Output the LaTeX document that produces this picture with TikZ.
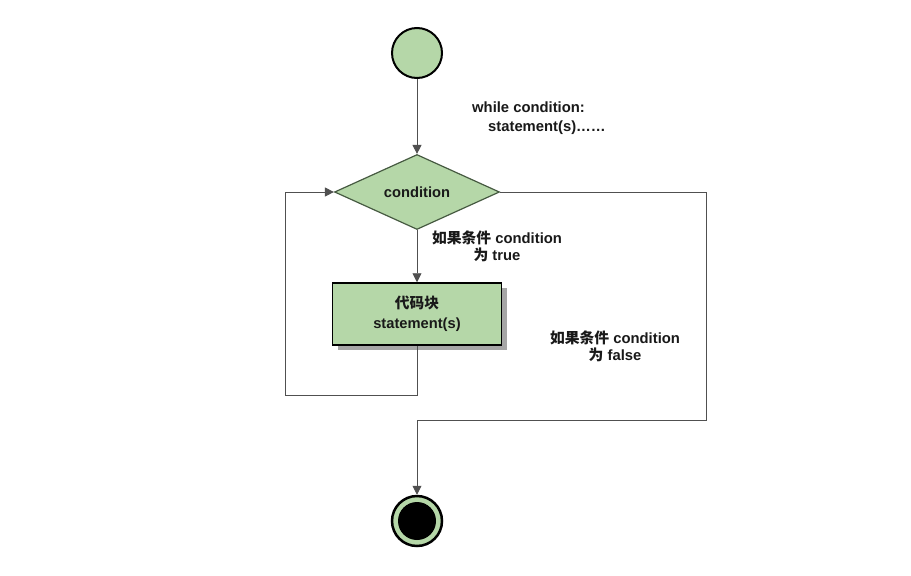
\documentclass[tikz,border=0pt]{standalone}
\usepackage{fontspec}
\setmainfont{Liberation Sans}
\newfontfamily\cjk{Noto Sans CJK SC}
\usetikzlibrary{shapes.geometric,shadows,arrows.meta}
\definecolor{lgreen}{RGB}{181,215,168}
\definecolor{dborder}{RGB}{70,90,65}
\definecolor{lineg}{RGB}{80,80,80}
\tikzset{
  flowline/.style={draw=lineg, line width=0.9pt},
  flowarrow/.style={flowline, -{Triangle[length=9pt,width=9pt]}},
  lbl/.style={font=\fontsize{14.8}{17}\selectfont\bfseries, align=center, inner sep=0pt, text=black!90},
}
\begin{document}
\begin{tikzpicture}[x=1pt,y=-1pt]
\useasboundingbox (0,0) rectangle (911,576);
\fill[white] (0,0) rectangle (911,576);
% start
\node[circle, draw=black, line width=2pt, fill=lgreen, minimum size=50pt, inner sep=0pt] (start) at (417,53) {};
% condition
\node[diamond, draw=dborder, line width=1.2pt, fill=lgreen, shape aspect=2.2, minimum width=165pt, minimum height=75pt, inner sep=0pt, font=\fontsize{14.7}{17}\selectfont\bfseries, text=black!90] (cond) at (417,192) {condition};
% code block
\node[rectangle, draw=black, line width=1.5pt, fill=lgreen, minimum width=169pt, minimum height=62pt, align=center, font=\fontsize{14.7}{20}\selectfont\bfseries, text=black!90,
  drop shadow={shadow xshift=5pt, shadow yshift=-5pt, fill=black!35, opacity=1}] (code) at (417,314) {{\cjk 代码块}\\statement(s)};
% end
\node[circle, draw=black, line width=2.5pt, fill=lgreen, minimum size=50pt, inner sep=0pt] (end) at (417,521) {};
\node[circle, fill=black, minimum size=38pt, inner sep=0pt] (endin) at (end.center) {};
% texts
\node[lbl, anchor=west] (t1) at (472,107) {while condition:};
\node[lbl, anchor=west] (t2) at (488,128) {statement(s)……};
\node[lbl] (ltrue) at (497,246.5) {{\cjk 如果条件} condition\\{\cjk 为} true};
\node[lbl] (lfalse) at (615,346.5) {{\cjk 如果条件} condition\\{\cjk 为} false};
% coordinates
\coordinate (lb1) at (417,395);
\coordinate (lb2) at (285,395);
\coordinate (lb3) at (285,192);
\coordinate (fr1) at (706,192);
\coordinate (fr2) at (706,420);
\coordinate (fr3) at (417,420);
% connectors
\draw[flowarrow] (start) -- (cond.north);
\draw[flowarrow] (cond.south) -- (code.north);
\draw[flowarrow] (code.south) -- (lb1) -- (lb2) -- (lb3) -- (cond.west);
\draw[flowarrow] (cond.east) -- (fr1) -- (fr2) -- (fr3) -- (end.north);
\end{tikzpicture}
\end{document}
